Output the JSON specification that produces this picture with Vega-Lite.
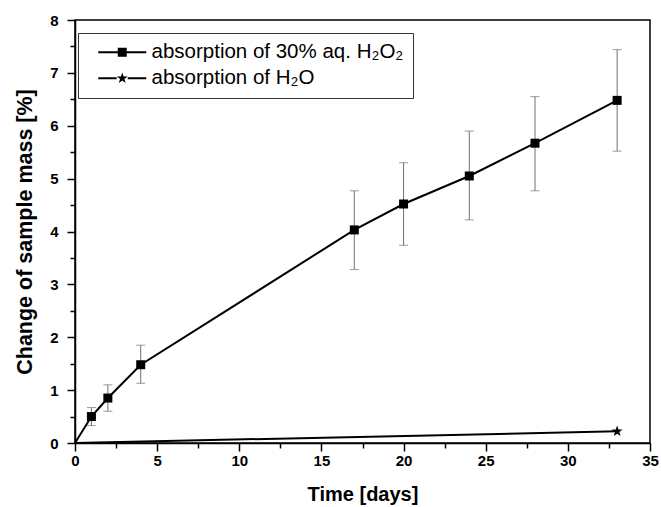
{
  "$schema": "https://vega.github.io/schema/vega-lite/v6.json",
  "width": 575,
  "height": 423,
  "autosize": {"type": "none"},
  "padding": {"left": 75, "top": 20, "right": 11, "bottom": 64},
  "background": "white",
  "config": {
    "view": {"stroke": "black", "strokeWidth": 1.5},
    "font": "Liberation Sans",
    "axis": {
      "grid": false,
      "domainColor": "black",
      "domainWidth": 1.5,
      "tickColor": "black",
      "tickWidth": 1.5,
      "labelFont": "Liberation Sans",
      "labelFontSize": 15,
      "labelFontWeight": "bold",
      "labelColor": "black",
      "titleFont": "Liberation Sans",
      "titleFontSize": 20,
      "titleFontWeight": "bold",
      "titleColor": "black"
    }
  },
  "datasets": {
    "mass": [
      {"series": "absorption of 30% aq. H₂O₂", "day": 0, "mass": 0},
      {"series": "absorption of 30% aq. H₂O₂", "day": 1, "mass": 0.5, "lo": 0.33, "hi": 0.67},
      {"series": "absorption of 30% aq. H₂O₂", "day": 2, "mass": 0.85, "lo": 0.6, "hi": 1.1},
      {"series": "absorption of 30% aq. H₂O₂", "day": 4, "mass": 1.48, "lo": 1.13, "hi": 1.85},
      {"series": "absorption of 30% aq. H₂O₂", "day": 17, "mass": 4.03, "lo": 3.28, "hi": 4.77},
      {"series": "absorption of 30% aq. H₂O₂", "day": 20, "mass": 4.52, "lo": 3.74, "hi": 5.3},
      {"series": "absorption of 30% aq. H₂O₂", "day": 24, "mass": 5.05, "lo": 4.22, "hi": 5.9},
      {"series": "absorption of 30% aq. H₂O₂", "day": 28, "mass": 5.67, "lo": 4.77, "hi": 6.55},
      {"series": "absorption of 30% aq. H₂O₂", "day": 33, "mass": 6.48, "lo": 5.52, "hi": 7.44},
      {"series": "absorption of H₂O", "day": 0, "mass": 0},
      {"series": "absorption of H₂O", "day": 33, "mass": 0.22}
    ]
  },
  "data": {"name": "mass"},
  "encoding": {
    "x": {
      "field": "day",
      "type": "quantitative",
      "scale": {"domain": [0, 35], "nice": false, "zero": false},
      "axis": {
        "title": "Time [days]",
        "values": [0, 2.5, 5, 7.5, 10, 12.5, 15, 17.5, 20, 22.5, 25, 27.5, 30, 32.5, 35],
        "labelExpr": "datum.value % 5 === 0 ? toString(datum.value) : ''",
        "tickSize": {"condition": {"test": "datum.value % 5 === 0", "value": 8}, "value": 5},
        "labelPadding": 2,
        "titlePadding": 16,
        "labelFlush": false
      }
    },
    "y": {
      "field": "mass",
      "type": "quantitative",
      "scale": {"domain": [0, 8], "nice": false},
      "axis": {
        "title": "Change of sample mass [%]",
        "titleFontSize": 21.5,
        "values": [0, 0.5, 1, 1.5, 2, 2.5, 3, 3.5, 4, 4.5, 5, 5.5, 6, 6.5, 7, 7.5, 8],
        "labelExpr": "datum.value % 1 === 0 ? toString(datum.value) : ''",
        "tickSize": {"condition": {"test": "datum.value % 1 === 0", "value": 8}, "value": 5},
        "labelPadding": 9,
        "titlePadding": 13,
        "labelFlush": false
      }
    }
  },
  "layer": [
    {
      "transform": [{"filter": "isValid(datum.lo)"}],
      "mark": {"type": "errorbar", "color": "#707070", "thickness": 1, "ticks": {"size": 9, "color": "#707070", "thickness": 1}},
      "encoding": {
        "y": {"field": "lo", "type": "quantitative"},
        "y2": {"field": "hi"}
      }
    },
    {
      "mark": {"type": "line", "color": "black", "strokeWidth": 2},
      "encoding": {"detail": {"field": "series"}}
    },
    {
      "transform": [{"filter": "datum.day > 0"}],
      "mark": {"type": "point", "filled": true, "opacity": 1, "fill": "black"},
      "encoding": {
        "shape": {
          "condition": {"test": "datum.series === 'absorption of H₂O'", "value": "M0,-1.15L0.27,-0.37L1.1,-0.36L0.44,0.14L0.68,0.93L0,0.46L-0.68,0.93L-0.44,0.14L-1.1,-0.36L-0.27,-0.37Z"},
          "value": "M-0.9,-0.9H0.9V0.9H-0.9Z"
        },
        "size": {"value": 100}
      }
    },
    {
      "transform": [{"filter": "datum.day > 0"}],
      "mark": {"type": "point", "filled": true, "opacity": 0, "fill": "black"},
      "encoding": {
        "shape": {
          "field": "series",
          "type": "nominal",
          "scale": {
            "domain": ["absorption of 30% aq. H₂O₂", "absorption of H₂O"],
            "range": [
              "M-4.8,-0.2H-0.9V0.2H-4.8ZM0.9,-0.2H4.8V0.2H0.9ZM-0.9,-0.9H0.9V0.9H-0.9Z",
              "M-4.8,-0.2H-1.1V0.2H-4.8ZM1.1,-0.2H4.8V0.2H1.1ZM0,-1.15L0.27,-0.37L1.1,-0.36L0.44,0.14L0.68,0.93L0,0.46L-0.68,0.93L-0.44,0.14L-1.1,-0.36L-0.27,-0.37Z"
            ]
          },
          "legend": {
            "title": null,
            "orient": "none",
            "legendX": 3,
            "legendY": 13,
            "strokeColor": "#333333",
            "fillColor": "white",
            "padding": 9,
            "rowPadding": 5,
            "labelFont": "Liberation Sans",
            "labelFontSize": 20.5,
            "labelColor": "black",
            "labelLimit": 400,
            "symbolSize": 100,
            "symbolOffset": 25,
            "labelOffset": 19,
            "symbolOpacity": 1,
            "symbolStrokeWidth": 0,
            "symbolFillColor": "black"
          }
        },
        "size": {"value": 100}
      }
    }
  ]
}
